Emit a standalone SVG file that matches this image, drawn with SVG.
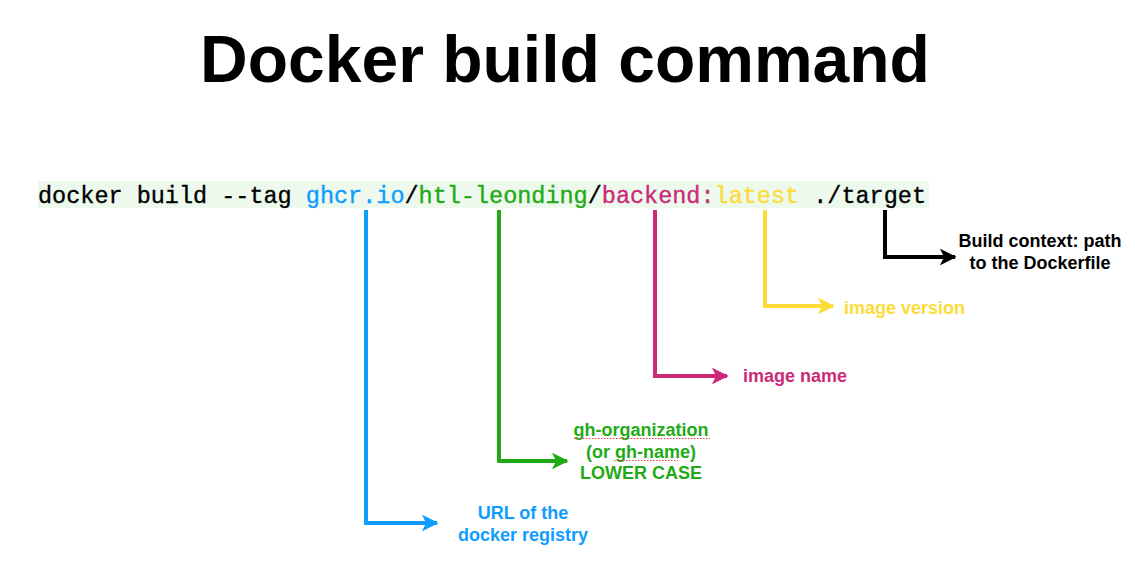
<svg xmlns="http://www.w3.org/2000/svg" width="1135" height="571" viewBox="0 0 1135 571">
<style>
.code{font-family:"Liberation Mono","Courier New",monospace;font-size:23.5px;stroke-width:0.35px;}
.lbl{font-family:"Liberation Sans",Arial,sans-serif;font-size:18px;font-weight:bold;text-anchor:middle;}
.conn{fill:none;stroke-width:4;}
.squig{fill:none;stroke:#e04040;stroke-width:1;stroke-dasharray:1.5 1.5;}
</style>
<defs>
<marker id="aBlue" viewBox="0 0 10 10" refX="9" refY="5" markerWidth="4.2" markerHeight="4.2" orient="auto" markerUnits="strokeWidth"><path d="M0,0 L10,5 L0,10 L2.5,5 Z" fill="#0f9dff"/></marker>
<marker id="aGreen" viewBox="0 0 10 10" refX="9" refY="5" markerWidth="4.2" markerHeight="4.2" orient="auto" markerUnits="strokeWidth"><path d="M0,0 L10,5 L0,10 L2.5,5 Z" fill="#1faa16"/></marker>
<marker id="aMag" viewBox="0 0 10 10" refX="9" refY="5" markerWidth="4.2" markerHeight="4.2" orient="auto" markerUnits="strokeWidth"><path d="M0,0 L10,5 L0,10 L2.5,5 Z" fill="#cc2a78"/></marker>
<marker id="aYel" viewBox="0 0 10 10" refX="9" refY="5" markerWidth="4.2" markerHeight="4.2" orient="auto" markerUnits="strokeWidth"><path d="M0,0 L10,5 L0,10 L2.5,5 Z" fill="#fcdc36"/></marker>
<marker id="aBlk" viewBox="0 0 10 10" refX="9" refY="5" markerWidth="4.2" markerHeight="4.2" orient="auto" markerUnits="strokeWidth"><path d="M0,0 L10,5 L0,10 L2.5,5 Z" fill="#000"/></marker>
</defs>
<rect width="1135" height="571" fill="#fff"/>
<g id="title">
<text x="565" y="82" font-family="Liberation Sans,Arial,sans-serif" font-size="66" font-weight="bold" text-anchor="middle" fill="#000">Docker build command</text>
</g>
<g id="command">
<rect x="38" y="181" width="891" height="27" fill="#edf9ed"/>
<text class="code" x="38" y="203" textLength="888" lengthAdjust="spacing"><tspan fill="#000" stroke="#000">docker build --tag </tspan><tspan fill="#0f9dff" stroke="#0f9dff">ghcr.io</tspan><tspan fill="#000" stroke="#000">/</tspan><tspan fill="#1faa16" stroke="#1faa16">htl-leonding</tspan><tspan fill="#000" stroke="#000">/</tspan><tspan fill="#cc2a78" stroke="#cc2a78">backend:</tspan><tspan fill="#fcdc36" stroke="#fcdc36">latest</tspan><tspan fill="#000" stroke="#000"> ./target</tspan></text>
</g>
<g id="connectors">
<path class="conn" stroke="#0f9dff" d="M366,210 V523 H437" marker-end="url(#aBlue)"/>
<path class="conn" stroke="#1faa16" d="M499,210 V461 H567" marker-end="url(#aGreen)"/>
<path class="conn" stroke="#cc2a78" d="M655,210 V376 H727" marker-end="url(#aMag)"/>
<path class="conn" stroke="#fcdc36" d="M765,210 V306 H833" marker-end="url(#aYel)"/>
<path class="conn" stroke="#000" d="M885,210 V257 H955" marker-end="url(#aBlk)"/>
</g>
<g id="build-context">
<text class="lbl" x="1040" y="247" fill="#000">Build context: path</text>
<text class="lbl" x="1040" y="269" fill="#000">to the Dockerfile</text>
</g>
<g id="image-version">
<text class="lbl" x="904.5" y="314" fill="#fcdc36">image version</text>
</g>
<g id="image-name">
<text class="lbl" x="795" y="382" fill="#cc2a78">image name</text>
</g>
<g id="gh-organization">
<text class="lbl" x="641" y="436" fill="#1faa16">gh-organization</text>
<text class="lbl" x="641" y="458" fill="#1faa16">(or gh-name)</text>
<text class="lbl" x="641" y="479" fill="#1faa16">LOWER CASE</text>
<path class="squig" d="M574,438.5 H710 M614,460.5 H678"/>
</g>
<g id="registry-url">
<text class="lbl" x="523" y="519" fill="#0f9dff">URL of the</text>
<text class="lbl" x="523" y="541" fill="#0f9dff">docker registry</text>
</g>
</svg>
